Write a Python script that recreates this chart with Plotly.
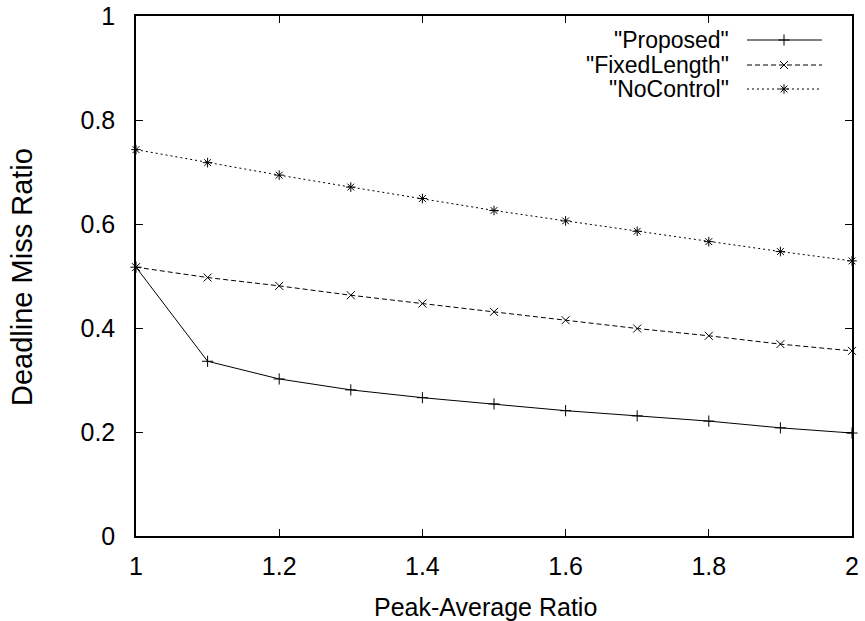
import plotly.graph_objects as go

x_vals = [1.0, 1.1, 1.2, 1.3, 1.4, 1.5, 1.6, 1.7, 1.8, 1.9, 2.0]
proposed = [0.517, 0.336, 0.302, 0.281, 0.266, 0.254, 0.241, 0.231, 0.221, 0.208, 0.198]
fixed_length = [0.517, 0.497, 0.481, 0.463, 0.447, 0.431, 0.415, 0.399, 0.385, 0.369, 0.356]
no_control = [0.743, 0.718, 0.694, 0.671, 0.649, 0.626, 0.606, 0.586, 0.566, 0.547, 0.529]

series_names = ['"Proposed"', '"FixedLength"', '"NoControl"']
x_ticks = [1, 1.2, 1.4, 1.6, 1.8, 2]
x_tick_text = ["1", "1.2", "1.4", "1.6", "1.8", "2"]
y_ticks = [0, 0.2, 0.4, 0.6, 0.8, 1]
y_tick_text = ["0", "0.2", "0.4", "0.6", "0.8", "1"]
x_title = "Peak-Average Ratio"
y_title = "Deadline Miss Ratio"

FONT = "Liberation Sans, Arial, Helvetica, sans-serif"
styles = [
    dict(dash="solid", symbol="cross-thin"),
    dict(dash="5px,3px", symbol="x-thin"),
    dict(dash="2px,3px", symbol="asterisk"),
]
series = [proposed, fixed_length, no_control]

fig = go.Figure()
for name, ys, st in zip(series_names, series, styles):
    fig.add_trace(go.Scatter(
        x=x_vals, y=ys, mode="lines+markers", name=name,
        line=dict(color="black", width=1, dash=st["dash"]),
        marker=dict(symbol=st["symbol"], size=8, color="black",
                    line=dict(color="black", width=1)),
        cliponaxis=False, showlegend=False,
    ))

L, R, T, B = 136, 852, 16, 536
W, H = R - L, B - T
def px(x): return (x - L) / W
def py(y): return (B - y) / H

# custom legend (text left of sample, as in gnuplot)
leg_y = [40, 65, 89]
for name, st, yy in zip(series_names, styles, leg_y):
    fig.add_annotation(x=px(730), y=py(yy), xref="paper", yref="paper",
                       text=name, showarrow=False, xanchor="right", yanchor="middle",
                       borderpad=0,
                       font=dict(family=FONT, size=23, color="black"))
    fig.add_shape(type="line", xref="paper", yref="paper",
                  x0=px(747), x1=px(822), y0=py(yy), y1=py(yy),
                  line=dict(color="black", width=1, dash=st["dash"]))
    fig.add_trace(go.Scatter(
        x=[px(784)], y=[py(yy)], xaxis="x2", yaxis="y2", mode="markers",
        marker=dict(symbol=st["symbol"], size=8, color="black",
                    line=dict(color="black", width=1)),
        cliponaxis=False, showlegend=False, hoverinfo="skip",
    ))

# axis titles
fig.add_annotation(x=px(485), y=py(607), xref="paper", yref="paper", text=x_title,
                   showarrow=False, xanchor="center", yanchor="middle",
                   font=dict(family=FONT, size=25, color="black"))
fig.add_annotation(x=px(22), y=py(277), xref="paper", yref="paper", text=y_title,
                   showarrow=False, xanchor="center", yanchor="middle", textangle=-90,
                   font=dict(family=FONT, size=29, color="black"))

axis_common = dict(showgrid=False, zeroline=False, showline=True, linecolor="black",
                   linewidth=1.5, mirror="ticks", ticks="inside", ticklen=7,
                   tickcolor="black", tickwidth=1, automargin=False,
                   tickfont=dict(family=FONT, size=25, color="black"))

fig.update_layout(
    width=865, height=621,
    margin=dict(l=L, r=865 - R, t=T, b=621 - B, autoexpand=False),
    paper_bgcolor="white", plot_bgcolor="white",
    xaxis=dict(range=[1, 2], tickvals=x_ticks, ticktext=x_tick_text,
               ticklabelstandoff=7, **axis_common),
    yaxis=dict(range=[0, 1], tickvals=y_ticks, ticktext=y_tick_text,
               ticklabelstandoff=14, **axis_common),
    xaxis2=dict(range=[0, 1], overlaying="x", visible=False, anchor="y2"),
    yaxis2=dict(range=[0, 1], overlaying="y", visible=False, anchor="x2"),
    showlegend=False,
)

fig.write_html("out.html")
